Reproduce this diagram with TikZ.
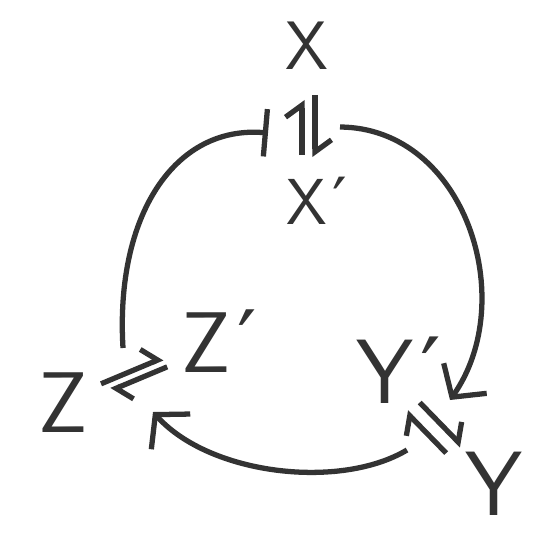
\documentclass[tikz,border=0pt]{standalone}
\usepackage{fontspec}
\newfontfamily\primefont{DejaVu Sans}
\usetikzlibrary{arrows.meta, calc}

% prime that takes no room, so the node sits on its letter
\newcommand{\prm}{\rlap{\smash{\hspace{0.08em}\primefont\char"2032}}}

\begin{document}
\begin{tikzpicture}[
    x=0.02cm, y=-0.02cm,
    ink/.style={line width=3pt, draw=black!80},
    spec/.style={inner sep=0pt, text=black!80,
                 font=\fontsize{#1}{#1}\selectfont\sffamily},
    harp/.style={ink, -{Straight Barb[left, length=0.24cm, width=0.66cm]}},
    act/.style={ink, -{Straight Barb[length=0.46cm, width=1.05cm]}},
    inh/.style={ink, -{Bar[width=0.95cm]}}
  ]
  \useasboundingbox (0,0) rectangle (553,533);

  % species
  \node[spec=39] (x)  at (307,46)  {X};
  \node[spec=37] (xp) at (307,202) {X\prm};
  \node[spec=52] (yp) at (385,372) {Y\prm};
  \node[spec=52] (y)  at (494,484) {Y};
  \node[spec=49] (z)  at (63,403)  {Z};
  \node[spec=49] (zp) at (206,343) {Z\prm};

  % equilibria
  \draw[harp, transform canvas={xshift=-0.1cm},
        shorten <=0.94cm, shorten >=1.08cm] (xp.center) -- (x.center);
  \draw[harp, transform canvas={xshift=0.16cm},
        shorten <=0.98cm, shorten >=0.9cm] (x.center) -- (xp.center);
  \draw[harp, transform canvas={xshift=-0.023cm, yshift=0.055cm},
        shorten <=0.85cm, shorten >=0.92cm] (z.center) -- (zp.center);
  \draw[harp, transform canvas={xshift=0.054cm, yshift=-0.129cm},
        shorten <=0.9cm, shorten >=0.99cm] (zp.center) -- (z.center);
  \draw[harp, transform canvas={xshift=-0.19cm, yshift=-0.17cm},
        shorten <=1.1cm, shorten >=0.88cm] (y.center) -- (yp.center);
  \draw[harp, transform canvas={xshift=0.053cm, yshift=0.049cm},
        shorten <=0.92cm, shorten >=1.0cm] (yp.center) -- (y.center);

  % loose ends of the loop
  \coordinate (zo)   at (123,348);
  \coordinate (xbar) at (268,133);
  \coordinate (xo)   at (340,127);
  \coordinate (yi)   at (450,400);
  \coordinate (yo)   at (407,450);
  \coordinate (zi)   at (153,412);

  \draw[inh] (zo) .. controls (115,215) and (175,125) .. (xbar);
  \draw[act] (xo) .. controls (465,128) and (520,300) .. (yi);
  \draw[act] (yo) .. controls (340,490) and (210,475) .. (zi);
\end{tikzpicture}
\end{document}
